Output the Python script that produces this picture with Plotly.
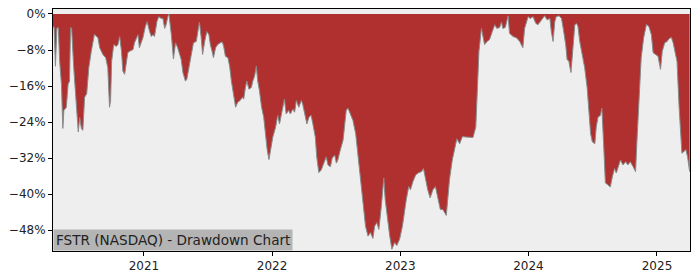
import plotly.graph_objects as go

dates = [
    "2020-04-17", "2020-04-20", "2020-04-24", "2020-04-28", "2020-05-02", "2020-05-06", "2020-05-11",
    "2020-05-15", "2020-05-18", "2020-05-25", "2020-05-30", "2020-06-03", "2020-06-06", "2020-06-09",
    "2020-06-15", "2020-06-20", "2020-06-25", "2020-06-28", "2020-07-02", "2020-07-07", "2020-07-11",
    "2020-07-16", "2020-07-22", "2020-07-28", "2020-08-04", "2020-08-13", "2020-08-23", "2020-08-28",
    "2020-09-06", "2020-09-14", "2020-09-20", "2020-09-25", "2020-09-28", "2020-10-01", "2020-10-07",
    "2020-10-14", "2020-10-19", "2020-10-24", "2020-10-29", "2020-11-02", "2020-11-07", "2020-11-12",
    "2020-11-16", "2020-11-21", "2020-12-01", "2020-12-05", "2020-12-15", "2020-12-19", "2020-12-24",
    "2020-12-29", "2021-01-05", "2021-01-10", "2021-01-17", "2021-01-22", "2021-01-26", "2021-01-31",
    "2021-02-07", "2021-02-12", "2021-02-19", "2021-02-24", "2021-03-01", "2021-03-05", "2021-03-10",
    "2021-03-13", "2021-03-15", "2021-03-20", "2021-03-26", "2021-04-01", "2021-04-07", "2021-04-17",
    "2021-04-22", "2021-04-29", "2021-05-03", "2021-05-09", "2021-05-16", "2021-05-22", "2021-05-30",
    "2021-06-03", "2021-06-08", "2021-06-13", "2021-06-17", "2021-06-23", "2021-06-29", "2021-07-05",
    "2021-07-09", "2021-07-14", "2021-07-18", "2021-07-24", "2021-07-30", "2021-08-06", "2021-08-12",
    "2021-08-16", "2021-08-21", "2021-08-28", "2021-09-02", "2021-09-07", "2021-09-13", "2021-09-19",
    "2021-09-25", "2021-10-02", "2021-10-08", "2021-10-12", "2021-10-17", "2021-10-21", "2021-10-27",
    "2021-11-03", "2021-11-07", "2021-11-12", "2021-11-17", "2021-11-21", "2021-11-26", "2021-12-02",
    "2021-12-08", "2021-12-13", "2021-12-18", "2021-12-23", "2021-12-28", "2022-01-03", "2022-01-11",
    "2022-01-17", "2022-01-22", "2022-01-27", "2022-02-01", "2022-02-05", "2022-02-10", "2022-02-17",
    "2022-02-22", "2022-03-01", "2022-03-06", "2022-03-11", "2022-03-18", "2022-03-25", "2022-03-29",
    "2022-04-03", "2022-04-10", "2022-04-16", "2022-04-22", "2022-04-27", "2022-05-04", "2022-05-08",
    "2022-05-14", "2022-05-21", "2022-05-28", "2022-06-04", "2022-06-09", "2022-06-16", "2022-06-21",
    "2022-06-28", "2022-07-03", "2022-07-07", "2022-07-14", "2022-07-22", "2022-07-26", "2022-07-31",
    "2022-08-05", "2022-08-12", "2022-08-19", "2022-08-27", "2022-09-02", "2022-09-09", "2022-09-17",
    "2022-09-24", "2022-10-01", "2022-10-08", "2022-10-15", "2022-10-20", "2022-10-26", "2022-11-01",
    "2022-11-08", "2022-11-15", "2022-11-19", "2022-11-25", "2022-12-02", "2022-12-08", "2022-12-16",
    "2022-12-22", "2022-12-30", "2023-01-07", "2023-01-13", "2023-01-18", "2023-01-25", "2023-01-30",
    "2023-02-06", "2023-02-14", "2023-02-23", "2023-03-02", "2023-03-08", "2023-03-14", "2023-03-20",
    "2023-03-27", "2023-04-04", "2023-04-11", "2023-04-18", "2023-04-25", "2023-05-02", "2023-05-12",
    "2023-05-16", "2023-05-21", "2023-05-29", "2023-06-05", "2023-06-11", "2023-06-19", "2023-06-27",
    "2023-07-06", "2023-07-18", "2023-07-27", "2023-08-04", "2023-08-07", "2023-08-13", "2023-08-20",
    "2023-08-24", "2023-08-29", "2023-09-05", "2023-09-12", "2023-09-20", "2023-09-27", "2023-10-03",
    "2023-10-11", "2023-10-16", "2023-10-20", "2023-10-27", "2023-11-04", "2023-11-08", "2023-11-18",
    "2023-11-28", "2023-12-07", "2023-12-16", "2023-12-21", "2023-12-31", "2024-01-06", "2024-01-14",
    "2024-01-22", "2024-01-28", "2024-02-07", "2024-02-16", "2024-02-23", "2024-03-02", "2024-03-06",
    "2024-03-11", "2024-03-16", "2024-03-20", "2024-03-28", "2024-04-04", "2024-04-09", "2024-04-16",
    "2024-04-20", "2024-04-25", "2024-05-01", "2024-05-07", "2024-05-12", "2024-05-17", "2024-05-21",
    "2024-05-26", "2024-06-03", "2024-06-09", "2024-06-16", "2024-06-21", "2024-06-26", "2024-07-01",
    "2024-07-08", "2024-07-12", "2024-07-17", "2024-07-24", "2024-07-28", "2024-08-02", "2024-08-07",
    "2024-08-14", "2024-08-21", "2024-08-27", "2024-09-02", "2024-09-07", "2024-09-14", "2024-09-19",
    "2024-09-26", "2024-10-04", "2024-10-10", "2024-10-17", "2024-10-25", "2024-11-01", "2024-11-05",
    "2024-11-11", "2024-11-17", "2024-11-24", "2024-12-02", "2024-12-09", "2024-12-16", "2024-12-21",
    "2024-12-28", "2025-01-04", "2025-01-11", "2025-01-16", "2025-01-23", "2025-01-30", "2025-02-04",
    "2025-02-11", "2025-02-16", "2025-02-21", "2025-02-27", "2025-03-05", "2025-03-09", "2025-03-13",
    "2025-03-18", "2025-03-24", "2025-03-29", "2025-04-04",
]

drawdown_pct = [
    -3.0, -2.8, -11.6, -3.2, -3.0, -10.5, -15.6,
    -25.4, -21.4, -20.7, -15.6, -14.9, -3.0, -3.2,
    -11.9, -17.8, -22.2, -26.2, -23.0, -25.5, -25.8,
    -18.5, -17.7, -11.9, -8.3, -4.5, -5.3, -7.5,
    -9.0, -9.7, -11.9, -20.7, -19.2, -10.5, -6.8,
    -7.2, -6.8, -5.0, -8.3, -12.7, -13.4, -10.5,
    -8.6, -8.3, -7.9, -6.4, -4.6, -7.5, -6.4,
    -5.3, -2.8, -1.7, -3.9, -5.0, -4.6, -5.0,
    -1.7, -0.6, -1.0, -1.0, -3.2, -2.4, -0.6,
    0.0, -1.3, -4.6, -10.0, -6.4, -7.5, -10.1,
    -13.0, -14.9, -14.5, -11.9, -8.3, -6.4, -6.1,
    -3.9, -1.8, -5.3, -9.0, -6.1, -3.9, -4.6,
    -6.8, -8.3, -9.7, -7.5, -6.8, -6.4, -6.2,
    -7.2, -9.4, -9.7, -11.6, -14.9, -17.8, -20.7,
    -19.6, -19.2, -18.5, -18.9, -16.3, -14.9, -16.7,
    -16.3, -14.9, -13.8, -11.6, -14.9, -17.1, -20.7,
    -22.9, -26.6, -30.2, -32.3, -29.5, -27.3, -25.1,
    -22.5, -24.4, -22.2, -20.7, -18.9, -22.2, -21.4,
    -22.2, -21.1, -21.8, -19.2, -20.7, -19.2, -20.0,
    -22.2, -24.4, -22.9, -22.5, -24.4, -27.3, -31.7,
    -35.2, -34.6, -33.1, -31.7, -33.5, -33.9, -32.0,
    -31.3, -33.1, -32.4, -30.2, -28.0, -25.1, -21.4,
    -20.9, -22.2, -23.6, -26.6, -30.9, -36.8, -41.2,
    -47.1, -49.3, -48.5, -49.8, -47.1, -46.3, -47.8,
    -42.7, -36.4, -41.2, -45.6, -49.3, -52.2, -50.7,
    -51.4, -50.0, -47.1, -43.4, -41.2, -38.3, -39.0,
    -37.2, -35.7, -35.2, -35.0, -34.3, -36.8, -39.0,
    -40.8, -39.0, -38.3, -41.2, -43.4, -43.4, -44.7,
    -41.2, -36.8, -32.4, -29.5, -27.7, -28.8, -27.2,
    -27.3, -27.3, -27.4, -25.1, -17.8, -8.3, -3.2,
    -4.6, -6.8, -6.1, -5.7, -3.9, -2.4, -3.2,
    -3.0, -1.8, -3.2, -3.0, -0.4, -4.3, -5.0,
    -5.3, -6.1, -7.5, -3.2, -0.6, -1.0, -0.6,
    -2.1, -2.4, -1.3, -0.4, -1.3, -1.0, -3.9,
    -6.1, -1.7, -0.6, -0.4, -1.0, -3.2, -6.8,
    -10.1, -10.5, -13.0, -6.1, -2.4, -2.1, -2.8,
    -6.1, -9.0, -11.9, -16.3, -21.4, -26.6, -28.4,
    -28.8, -25.1, -22.9, -22.5, -20.9, -28.8, -37.5,
    -37.9, -38.4, -36.1, -34.3, -35.3, -33.5, -32.4,
    -33.5, -32.8, -33.5, -32.8, -33.9, -35.0, -28.0,
    -17.8, -9.7, -5.3, -2.3, -2.8, -4.6, -8.6,
    -9.0, -9.4, -12.3, -8.3, -6.4, -6.1, -5.5,
    -5.2, -6.4, -8.6, -10.5, -20.7, -26.6, -30.9,
    -30.6, -30.1, -31.7, -35.0,
]

y_tick_values = [0, -8, -16, -24, -32, -40, -48]
y_tick_labels = ["0%", "\u22128%", "\u221216%", "\u221224%", "\u221232%", "\u221240%", "\u221248%"]
x_tick_values = ["2021-01-01", "2022-01-01", "2023-01-01", "2024-01-01", "2025-01-01"]
x_tick_labels = ["2021", "2022", "2023", "2024", "2025"]
title_text = "FSTR (NASDAQ) - Drawdown Chart"

fig = go.Figure()
fig.add_trace(go.Scatter(
    x=dates, y=drawdown_pct, mode="lines", fill="tozeroy",
    line=dict(color="#8a8a8a", width=1), fillcolor="#b03030",
    hoverinfo="skip", showlegend=False,
))

fig.update_layout(
    width=700, height=280,
    margin=dict(l=53, r=10, t=7, b=28),
    paper_bgcolor="white", plot_bgcolor="#eeeeee",
    font=dict(family="DejaVu Sans", size=12, color="#222222"),
    xaxis=dict(
        range=["2020-04-17", "2025-04-05"], tickvals=x_tick_values, ticktext=x_tick_labels,
        showgrid=False, zeroline=False, showline=True, mirror=True, linecolor="black", linewidth=1,
        ticks="outside", ticklen=4, tickcolor="black",
    ),
    yaxis=dict(
        range=[-52.6, 1.1], tickvals=y_tick_values, ticktext=y_tick_labels,
        showgrid=False, zeroline=False, showline=True, mirror=True, linecolor="black", linewidth=1,
        ticks="outside", ticklen=4, tickcolor="black",
    ),
    annotations=[dict(
        text=title_text, xref="paper", yref="paper", x=0, y=0,
        xanchor="left", yanchor="bottom", showarrow=False,
        font=dict(family="DejaVu Sans", size=13.6, color="#222222"),
        bgcolor="#b4b4b4", borderpad=2,
    )],
)

fig.write_html("out.html")
